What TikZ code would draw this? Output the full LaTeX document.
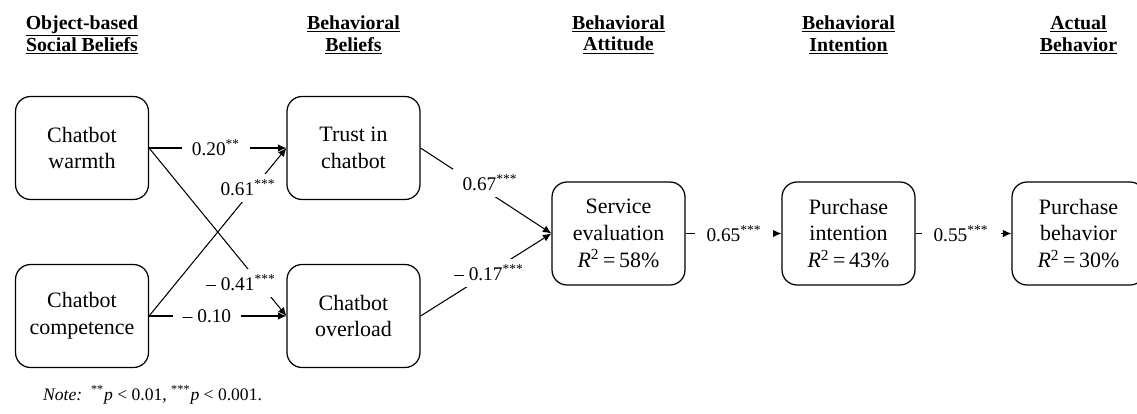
\documentclass[tikz,border=0pt]{standalone}
\usepackage{fontspec}
\setmainfont{Liberation Serif}
\usetikzlibrary{arrows.meta}

\tikzset{
	construct/.style={draw, line width=0.7pt, rounded corners=0.3cm, minimum width=2.66cm, minimum height=2.06cm, inner sep=0pt, align=center, font=\fontsize{12.5}{15.3}\selectfont},
	header/.style={align=center, font=\fontsize{11.3}{12.5}\selectfont\bfseries},
	coef/.style={fill=white, inner xsep=0.2cm, inner ysep=0.12cm, font=\fontsize{11}{13}\selectfont},
	effect/.style={line width=0.6pt, -{Latex[length=1.7mm,width=1.5mm]}},
}

\begin{document}
\begin{tikzpicture}[x=0.02cm, y=-0.02cm]
		%%%%% START %%%%%
		\useasboundingbox (0, 0) rectangle (1137, 413);
		
		\node[header] (h1) at (82, 35) {\underline{Object-based}\\\underline{Social Beliefs}};
		\node[header] (h2) at (353.5, 35) {\underline{Behavioral}\\\underline{Beliefs}};
		\node[header] (h3) at (618.5, 35) {\underline{Behavioral}\\\underline{Attitude}};
		\node[header] (h4) at (848.5, 35) {\underline{Behavioral}\\\underline{Intention}};
		\node[header] (h5) at (1078.5, 35) {\underline{Actual}\\\underline{Behavior}};
		
		\node[construct] (warmth) at (82, 148) {Chatbot\\warmth};
		\node[construct] (competence) at (82, 316) {Chatbot\\competence};
		\node[construct] (trust) at (353.5, 148) {Trust in\\chatbot};
		\node[construct] (overload) at (353.5, 316) {Chatbot\\overload};
		\node[construct] (service) at (618.5, 233.5) {Service\\evaluation\\\textit{R}\textsuperscript{2}\,=\,58\%};
		\node[construct] (intention) at (848.5, 233.5) {Purchase\\intention\\\textit{R}\textsuperscript{2}\,=\,43\%};
		\node[construct] (behavior) at (1078.5, 233.5) {Purchase\\behavior\\\textit{R}\textsuperscript{2}\,=\,30\%};
		
		\draw[effect] (warmth.east) -- (trust.west);
		\draw[effect] (warmth.east) -- (overload.west);
		\draw[effect] (competence.east) -- (trust.west);
		\draw[effect] (competence.east) -- (overload.west);
		\draw[effect] (trust.east) -- (service.west);
		\draw[effect] (overload.east) -- (service.west);
		\draw[effect] (service.east) -- (intention.west);
		\draw[effect] (intention.east) -- (behavior.west);
		
		\node[coef] (c1) at (216, 148) {0.20\textsuperscript{**}};
		\node[coef] (c2) at (248, 188) {0.61\textsuperscript{***}};
		\node[coef] (c3) at (241, 283) {– 0.41\textsuperscript{***}};
		\node[coef] (c4) at (207, 316) {– 0.10};
		\node[coef] (c5) at (490, 183) {0.67\textsuperscript{***}};
		\node[coef] (c6) at (489, 273) {– 0.17\textsuperscript{***}};
		\node[coef, inner xsep=0.24cm] (c7) at (734, 233.5) {0.65\textsuperscript{***}};
		\node[coef, inner xsep=0.24cm] (c8) at (961, 233.5) {0.55\textsuperscript{***}};
		
		\node[anchor=west, font=\fontsize{10}{12}\selectfont] (note) at (37, 395) {\textit{Note:}\enspace\textsuperscript{**}\textit{p} < 0.01, \textsuperscript{***}\textit{p} < 0.001.};
		%%%%% END %%%%%
	\end{tikzpicture}
\end{document}
